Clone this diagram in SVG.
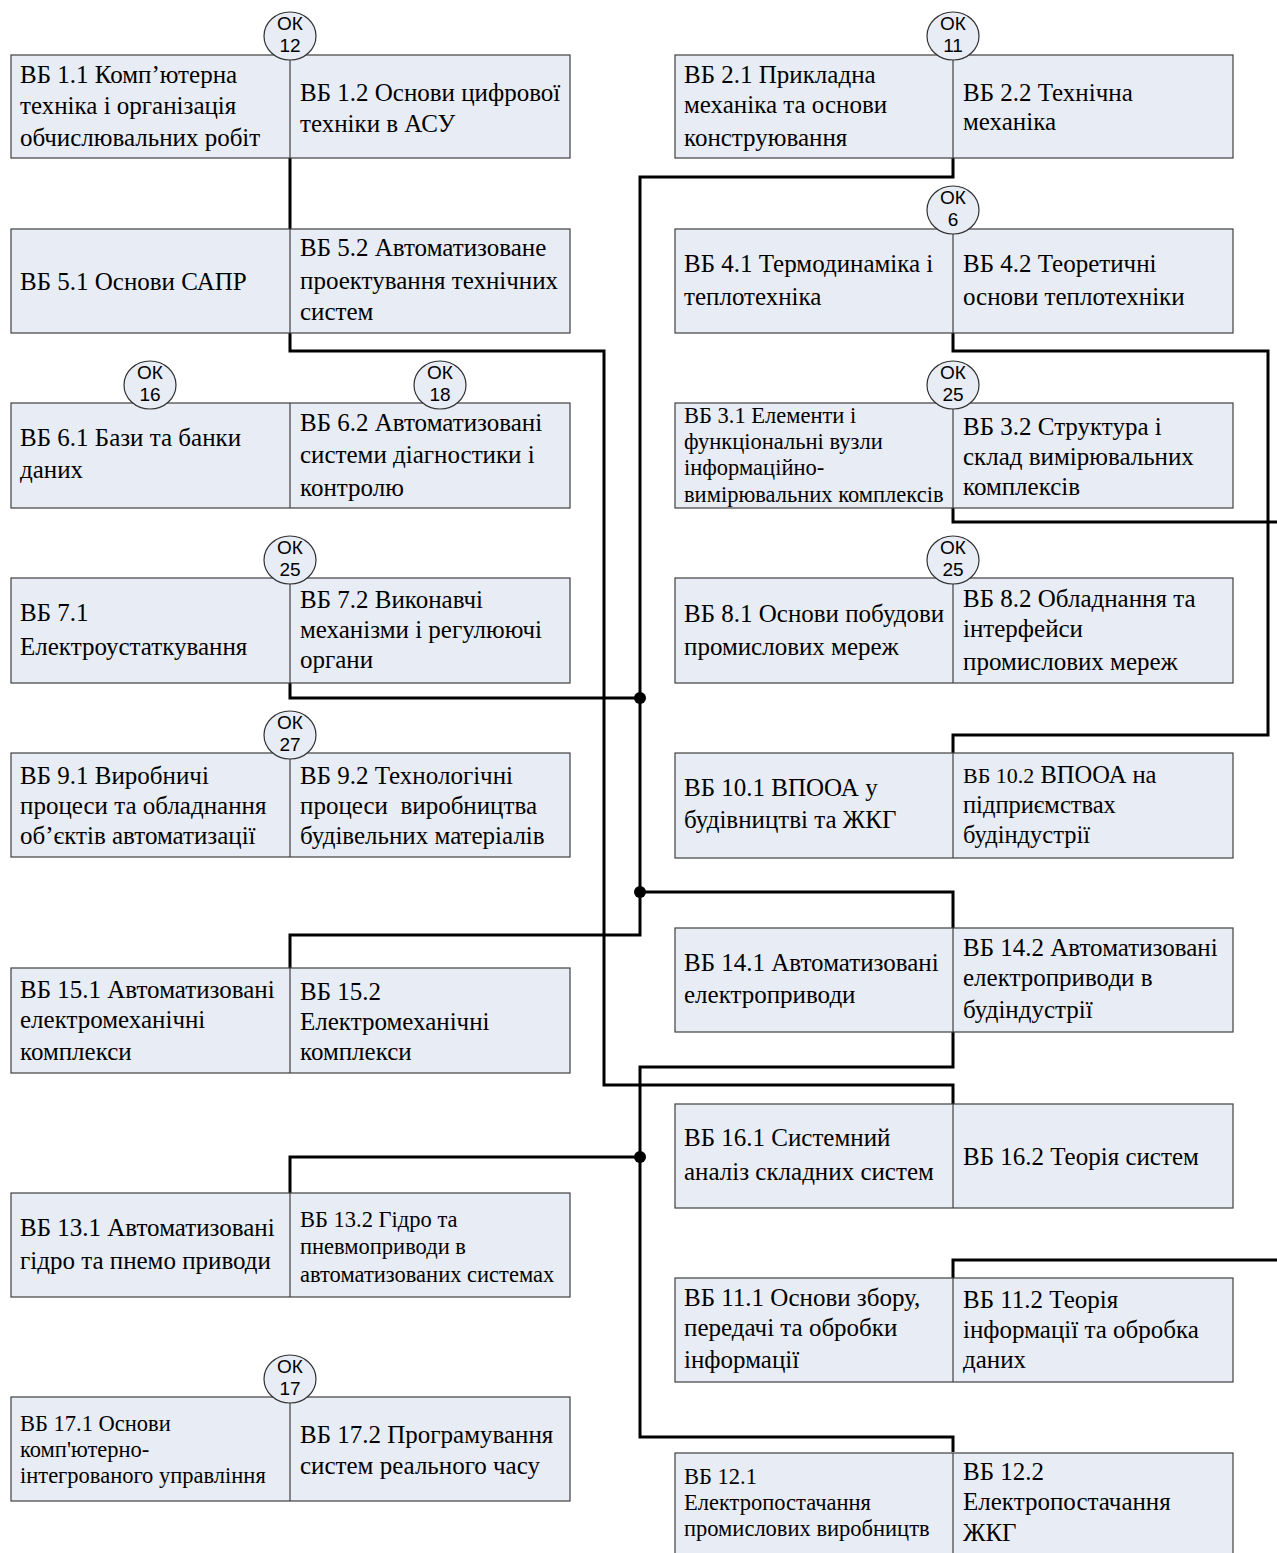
<svg xmlns="http://www.w3.org/2000/svg" width="1277" height="1553" viewBox="0 0 1277 1553">
<style>
.bx{fill:#e8ecf4;stroke:#404040;stroke-width:1.2}
.dv{stroke:#404040;stroke-width:1.2}
.t{font-family:"Liberation Serif","Times New Roman",serif;font-size:25px;fill:#000}
.s{font-size:22.5px}
.ok ellipse{fill:#e8ecf4;stroke:#303030;stroke-width:1.2}
.ok text{font-family:"Liberation Sans",Arial,sans-serif;font-size:19px;text-anchor:middle;fill:#000}
.cn{fill:none;stroke:#000;stroke-width:3}
.dot{fill:#000}
</style>
<rect width="1277" height="1553" fill="#fff"/>
<g id="connectors">
<path class="cn" d="M290,158 V351 H604 V1085 H953 V1105"/>
<path class="cn" d="M953,158 V177 H640 V935 H290 V968"/>
<path class="cn" d="M290,683 V698 H640"/>
<path class="cn" d="M640,892 H953 V928"/>
<path class="cn" d="M953,333 V351 H1268 V735 H953 V753"/>
<path class="cn" d="M953,508 V522 H1277"/>
<path class="cn" d="M953,1032 V1067 H640 V1437 H953 V1452"/>
<path class="cn" d="M640,1157 H290 V1193"/>
<path class="cn" d="M953,1278 V1260 H1277"/>
</g>
<g id="node-vb1">
<rect class="bx" x="11" y="55" width="559" height="103"/><line class="dv" x1="290" y1="55" x2="290" y2="158"/>
<text class="t"><tspan x="20" y="83">ВБ 1.1 Комп’ютерна</tspan><tspan x="20" y="114">техніка і організація</tspan><tspan x="20" y="146">обчислювальних робіт</tspan></text>
<text class="t"><tspan x="300" y="101">ВБ 1.2 Основи цифрової</tspan><tspan x="300" y="132">техніки в АСУ</tspan></text>
</g>
<g id="node-vb5">
<rect class="bx" x="11" y="229" width="559" height="104"/><line class="dv" x1="290" y1="229" x2="290" y2="333"/>
<text class="t" x="20" y="290">ВБ 5.1 Основи САПР</text>
<text class="t"><tspan x="300" y="256">ВБ 5.2 Автоматизоване</tspan><tspan x="300" y="289">проектування технічних</tspan><tspan x="300" y="320">систем</tspan></text>
</g>
<g id="node-vb6">
<rect class="bx" x="11" y="403" width="559" height="105"/><line class="dv" x1="290" y1="403" x2="290" y2="508"/>
<text class="t"><tspan x="20" y="446">ВБ 6.1 Бази та банки</tspan><tspan x="20" y="478">даних</tspan></text>
<text class="t"><tspan x="300" y="431">ВБ 6.2 Автоматизовані</tspan><tspan x="300" y="463">системи діагностики і</tspan><tspan x="300" y="496">контролю</tspan></text>
</g>
<g id="node-vb7">
<rect class="bx" x="11" y="578" width="559" height="105"/><line class="dv" x1="290" y1="578" x2="290" y2="683"/>
<text class="t"><tspan x="20" y="621">ВБ 7.1</tspan><tspan x="20" y="655">Електроустаткування</tspan></text>
<text class="t"><tspan x="300" y="608">ВБ 7.2 Виконавчі</tspan><tspan x="300" y="638">механізми і регулюючі</tspan><tspan x="300" y="668">органи</tspan></text>
</g>
<g id="node-vb9">
<rect class="bx" x="11" y="753" width="559" height="104"/><line class="dv" x1="290" y1="753" x2="290" y2="857"/>
<text class="t"><tspan x="20" y="784">ВБ 9.1 Виробничі</tspan><tspan x="20" y="814">процеси та обладнання</tspan><tspan x="20" y="844">об’єктів автоматизації</tspan></text>
<text class="t"><tspan x="300" y="784">ВБ 9.2 Технологічні</tspan><tspan x="300" y="814" xml:space="preserve">процеси  виробництва</tspan><tspan x="300" y="844">будівельних матеріалів</tspan></text>
</g>
<g id="node-vb15">
<rect class="bx" x="11" y="968" width="559" height="105"/><line class="dv" x1="290" y1="968" x2="290" y2="1073"/>
<text class="t"><tspan x="20" y="998">ВБ 15.1 Автоматизовані</tspan><tspan x="20" y="1028">електромеханічні</tspan><tspan x="20" y="1060">комплекси</tspan></text>
<text class="t"><tspan x="300" y="1000">ВБ 15.2</tspan><tspan x="300" y="1030">Електромеханічні</tspan><tspan x="300" y="1060">комплекси</tspan></text>
</g>
<g id="node-vb13">
<rect class="bx" x="11" y="1193" width="559" height="104"/><line class="dv" x1="290" y1="1193" x2="290" y2="1297"/>
<text class="t"><tspan x="20" y="1236">ВБ 13.1 Автоматизовані</tspan><tspan x="20" y="1269">гідро та пнемо приводи</tspan></text>
<text class="t s"><tspan x="300" y="1227">ВБ 13.2 Гідро та</tspan><tspan x="300" y="1254">пневмоприводи в</tspan><tspan x="300" y="1282">автоматизованих системах</tspan></text>
</g>
<g id="node-vb17">
<rect class="bx" x="11" y="1397" width="559" height="104"/><line class="dv" x1="290" y1="1397" x2="290" y2="1501"/>
<text class="t s"><tspan x="20" y="1431">ВБ 17.1 Основи</tspan><tspan x="20" y="1457">комп'ютерно-</tspan><tspan x="20" y="1483">інтегрованого управління</tspan></text>
<text class="t"><tspan x="300" y="1443">ВБ 17.2 Програмування</tspan><tspan x="300" y="1474">систем реального часу</tspan></text>
</g>
<g id="node-vb2">
<rect class="bx" x="675" y="55" width="558" height="103"/><line class="dv" x1="953" y1="55" x2="953" y2="158"/>
<text class="t"><tspan x="684" y="83">ВБ 2.1 Прикладна</tspan><tspan x="684" y="113">механіка та основи</tspan><tspan x="684" y="146">конструювання</tspan></text>
<text class="t"><tspan x="963" y="101">ВБ 2.2 Технічна</tspan><tspan x="963" y="130">механіка</tspan></text>
</g>
<g id="node-vb4">
<rect class="bx" x="675" y="229" width="558" height="104"/><line class="dv" x1="953" y1="229" x2="953" y2="333"/>
<text class="t"><tspan x="684" y="272">ВБ 4.1 Термодинаміка і</tspan><tspan x="684" y="305">теплотехніка</tspan></text>
<text class="t"><tspan x="963" y="272">ВБ 4.2 Теоретичні</tspan><tspan x="963" y="305">основи теплотехніки</tspan></text>
</g>
<g id="node-vb3">
<rect class="bx" x="675" y="403" width="558" height="105"/><line class="dv" x1="953" y1="403" x2="953" y2="508"/>
<text class="t s"><tspan x="684" y="423">ВБ 3.1 Елементи і</tspan><tspan x="684" y="449">функціональні вузли</tspan><tspan x="684" y="475">інформаційно-</tspan><tspan x="684" y="502">вимірювальних комплексів</tspan></text>
<text class="t"><tspan x="963" y="435">ВБ 3.2 Структура і</tspan><tspan x="963" y="465">склад вимірювальних</tspan><tspan x="963" y="495">комплексів</tspan></text>
</g>
<g id="node-vb8">
<rect class="bx" x="675" y="578" width="558" height="105"/><line class="dv" x1="953" y1="578" x2="953" y2="683"/>
<text class="t"><tspan x="684" y="622">ВБ 8.1 Основи побудови</tspan><tspan x="684" y="655">промислових мереж</tspan></text>
<text class="t"><tspan x="963" y="607">ВБ 8.2 Обладнання та</tspan><tspan x="963" y="637">інтерфейси</tspan><tspan x="963" y="670">промислових мереж</tspan></text>
</g>
<g id="node-vb10">
<rect class="bx" x="675" y="753" width="558" height="105"/><line class="dv" x1="953" y1="753" x2="953" y2="858"/>
<text class="t"><tspan x="684" y="796">ВБ 10.1 ВПООА у</tspan><tspan x="684" y="828">будівництві та ЖКГ</tspan></text>
<text class="t" style="font-size:24.5px"><tspan x="963" y="783"><tspan style="font-size:22px">ВБ 10.2</tspan> ВПООА на</tspan><tspan x="963" y="813">підприємствах</tspan><tspan x="963" y="843">будіндустрії</tspan></text>
</g>
<g id="node-vb14">
<rect class="bx" x="675" y="928" width="558" height="104"/><line class="dv" x1="953" y1="928" x2="953" y2="1032"/>
<text class="t"><tspan x="684" y="971">ВБ 14.1 Автоматизовані</tspan><tspan x="684" y="1003">електроприводи</tspan></text>
<text class="t"><tspan x="963" y="956">ВБ 14.2 Автоматизовані</tspan><tspan x="963" y="986">електроприводи в</tspan><tspan x="963" y="1018">будіндустрії</tspan></text>
</g>
<g id="node-vb16">
<rect class="bx" x="675" y="1104" width="558" height="104"/><line class="dv" x1="953" y1="1104" x2="953" y2="1208"/>
<text class="t"><tspan x="684" y="1146">ВБ 16.1 Системний</tspan><tspan x="684" y="1180">аналіз складних систем</tspan></text>
<text class="t" x="963" y="1165">ВБ 16.2 Теорія систем</text>
</g>
<g id="node-vb11">
<rect class="bx" x="675" y="1278" width="558" height="104"/><line class="dv" x1="953" y1="1278" x2="953" y2="1382"/>
<text class="t"><tspan x="684" y="1306">ВБ 11.1 Основи збору,</tspan><tspan x="684" y="1336">передачі та обробки</tspan><tspan x="684" y="1368">інформації</tspan></text>
<text class="t"><tspan x="963" y="1308">ВБ 11.2 Теорія</tspan><tspan x="963" y="1338">інформації та обробка</tspan><tspan x="963" y="1368">даних</tspan></text>
</g>
<g id="node-vb12">
<rect class="bx" x="675" y="1453" width="558" height="106"/><line class="dv" x1="953" y1="1453" x2="953" y2="1559"/>
<text class="t s"><tspan x="684" y="1484">ВБ 12.1</tspan><tspan x="684" y="1510">Електропостачання</tspan><tspan x="684" y="1536">промислових виробництв</tspan></text>
<text class="t"><tspan x="963" y="1480">ВБ 12.2</tspan><tspan x="963" y="1510">Електропостачання</tspan><tspan x="963" y="1541">ЖКГ</tspan></text>
</g>
<g id="dots">
<circle class="dot" cx="640" cy="698" r="6"/>
<circle class="dot" cx="640" cy="892" r="6"/>
<circle class="dot" cx="640" cy="1157" r="6"/>
</g>
<g id="ok12" class="ok"><ellipse cx="290" cy="36" rx="26" ry="24"/><text x="290" y="30">ОК</text><text x="290" y="52">12</text></g>
<g id="ok11" class="ok"><ellipse cx="953" cy="36" rx="26" ry="24"/><text x="953" y="30">ОК</text><text x="953" y="52">11</text></g>
<g id="ok6" class="ok"><ellipse cx="953" cy="210" rx="26" ry="24"/><text x="953" y="204">ОК</text><text x="953" y="226">6</text></g>
<g id="ok16" class="ok"><ellipse cx="150" cy="385" rx="26" ry="24"/><text x="150" y="379">ОК</text><text x="150" y="401">16</text></g>
<g id="ok18" class="ok"><ellipse cx="440" cy="385" rx="26" ry="24"/><text x="440" y="379">ОК</text><text x="440" y="401">18</text></g>
<g id="ok25a" class="ok"><ellipse cx="953" cy="385" rx="26" ry="24"/><text x="953" y="379">ОК</text><text x="953" y="401">25</text></g>
<g id="ok25b" class="ok"><ellipse cx="290" cy="560" rx="26" ry="24"/><text x="290" y="554">ОК</text><text x="290" y="576">25</text></g>
<g id="ok25c" class="ok"><ellipse cx="953" cy="560" rx="26" ry="24"/><text x="953" y="554">ОК</text><text x="953" y="576">25</text></g>
<g id="ok27" class="ok"><ellipse cx="290" cy="735" rx="26" ry="24"/><text x="290" y="729">ОК</text><text x="290" y="751">27</text></g>
<g id="ok17" class="ok"><ellipse cx="290" cy="1379" rx="26" ry="24"/><text x="290" y="1373">ОК</text><text x="290" y="1395">17</text></g>
</svg>
